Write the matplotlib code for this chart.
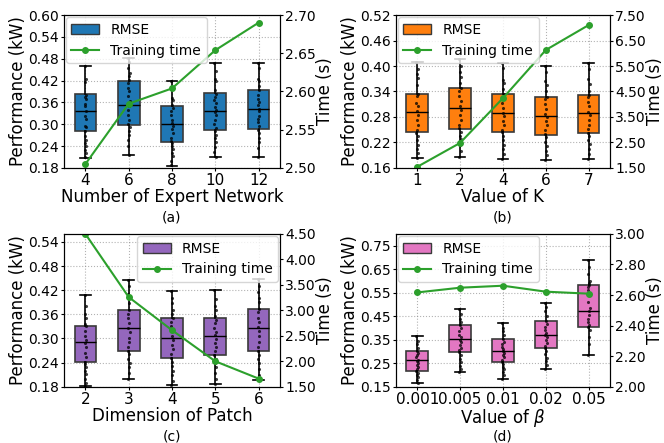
import numpy as np
import matplotlib
matplotlib.use("Agg")
import matplotlib.pyplot as plt
from matplotlib.patches import Patch
from matplotlib.lines import Line2D
from matplotlib.ticker import FormatStrFormatter

# ---- panel (a): number of expert network
a_labels = ["4", "6", "8", "10", "12"]
# (whislo, q1, med, q3, whishi)
a_box = [
    (0.208, 0.282, 0.337, 0.383, 0.459),
    (0.215, 0.297, 0.353, 0.419, 0.483),
    (0.186, 0.251, 0.301, 0.349, 0.419),
    (0.211, 0.283, 0.337, 0.387, 0.469),
    (0.211, 0.287, 0.343, 0.393, 0.467),
]
a_points = [
    [0.461, 0.423, 0.416, 0.379, 0.374, 0.368, 0.356, 0.349, 0.335, 0.322, 0.315,
     0.296, 0.293, 0.281, 0.269, 0.258, 0.249, 0.239, 0.230, 0.221, 0.209],
    [0.483, 0.470, 0.455, 0.440, 0.432, 0.421, 0.412, 0.400, 0.390, 0.377, 0.365,
     0.355, 0.349, 0.338, 0.325, 0.312, 0.300, 0.293, 0.282, 0.270, 0.258, 0.240, 0.215],
    [0.419, 0.400, 0.372, 0.366, 0.352, 0.345, 0.335, 0.325, 0.312, 0.303, 0.296,
     0.288, 0.275, 0.262, 0.255, 0.248, 0.240, 0.232, 0.222, 0.212, 0.200, 0.188],
    [0.469, 0.445, 0.425, 0.418, 0.395, 0.382, 0.375, 0.366, 0.357, 0.348, 0.340,
     0.333, 0.325, 0.312, 0.300, 0.290, 0.282, 0.270, 0.262, 0.250, 0.238, 0.225, 0.211],
    [0.467, 0.455, 0.425, 0.420, 0.405, 0.395, 0.380, 0.370, 0.360, 0.352, 0.343,
     0.335, 0.322, 0.315, 0.305, 0.296, 0.285, 0.275, 0.262, 0.250, 0.235, 0.211],
]
a_time = [2.505, 2.584, 2.604, 2.654, 2.690]

# ---- panel (b): value of K
b_labels = ["1", "2", "4", "6", "7"]
b_box = [
    (0.184, 0.244, 0.291, 0.334, 0.410),
    (0.186, 0.252, 0.300, 0.349, 0.417),
    (0.180, 0.244, 0.289, 0.333, 0.406),
    (0.178, 0.237, 0.282, 0.326, 0.399),
    (0.180, 0.243, 0.289, 0.332, 0.406),
]
b_points = [
    [0.410, 0.392, 0.380, 0.372, 0.355, 0.334, 0.330, 0.312, 0.305, 0.295, 0.285,
     0.272, 0.262, 0.250, 0.242, 0.235, 0.225, 0.214, 0.205, 0.195, 0.184],
    [0.417, 0.400, 0.385, 0.375, 0.360, 0.348, 0.340, 0.330, 0.318, 0.305, 0.296,
     0.284, 0.272, 0.262, 0.255, 0.245, 0.236, 0.228, 0.215, 0.200, 0.186],
    [0.406, 0.395, 0.368, 0.360, 0.345, 0.334, 0.322, 0.312, 0.300, 0.290, 0.282,
     0.270, 0.260, 0.250, 0.244, 0.236, 0.225, 0.215, 0.205, 0.192, 0.180],
    [0.399, 0.385, 0.365, 0.355, 0.340, 0.326, 0.322, 0.310, 0.298, 0.288, 0.280,
     0.270, 0.260, 0.250, 0.240, 0.232, 0.222, 0.212, 0.200, 0.190, 0.178],
    [0.406, 0.392, 0.370, 0.358, 0.342, 0.332, 0.328, 0.316, 0.305, 0.292, 0.284,
     0.272, 0.262, 0.252, 0.243, 0.235, 0.226, 0.216, 0.205, 0.192, 0.180],
]
b_time = [1.54, 2.48, 4.24, 6.13, 7.11]

# ---- panel (c): dimension of patch
c_labels = ["2", "3", "4", "5", "6"]
c_box = [
    (0.183, 0.242, 0.290, 0.331, 0.408),
    (0.199, 0.270, 0.325, 0.371, 0.446),
    (0.185, 0.252, 0.301, 0.350, 0.419),
    (0.188, 0.259, 0.307, 0.351, 0.420),
    (0.197, 0.269, 0.325, 0.374, 0.448),
]
c_points = [
    [0.408, 0.380, 0.360, 0.350, 0.335, 0.330, 0.318, 0.305, 0.296, 0.288, 0.278,
     0.265, 0.255, 0.242, 0.236, 0.228, 0.220, 0.212, 0.200, 0.190, 0.183],
    [0.446, 0.430, 0.410, 0.402, 0.388, 0.372, 0.362, 0.350, 0.338, 0.325, 0.315,
     0.302, 0.290, 0.280, 0.270, 0.262, 0.250, 0.240, 0.228, 0.215, 0.199],
    [0.419, 0.400, 0.388, 0.372, 0.360, 0.350, 0.340, 0.330, 0.318, 0.305, 0.296,
     0.285, 0.275, 0.262, 0.252, 0.242, 0.232, 0.220, 0.208, 0.195, 0.185],
    [0.420, 0.398, 0.380, 0.372, 0.355, 0.345, 0.338, 0.325, 0.315, 0.308, 0.298,
     0.288, 0.278, 0.268, 0.259, 0.250, 0.240, 0.228, 0.215, 0.200, 0.188],
    [0.448, 0.430, 0.415, 0.400, 0.390, 0.374, 0.365, 0.352, 0.340, 0.328, 0.318,
     0.305, 0.292, 0.280, 0.269, 0.260, 0.248, 0.238, 0.225, 0.210, 0.197],
]
c_time = [4.50, 3.26, 2.61, 2.00, 1.66]

# ---- panel (d): value of beta
d_labels = ["0.001", "0.005", "0.01", "0.02", "0.05"]
d_box = [
    (0.165, 0.217, 0.262, 0.302, 0.365),
    (0.212, 0.296, 0.351, 0.413, 0.479),
    (0.184, 0.254, 0.302, 0.351, 0.420),
    (0.226, 0.313, 0.369, 0.430, 0.508),
    (0.286, 0.404, 0.470, 0.583, 0.688),
]
d_points = [
    [0.365, 0.345, 0.330, 0.315, 0.302, 0.295, 0.285, 0.275, 0.265, 0.258, 0.250,
     0.242, 0.232, 0.225, 0.217, 0.210, 0.200, 0.190, 0.180, 0.165],
    [0.479, 0.460, 0.440, 0.425, 0.413, 0.400, 0.385, 0.372, 0.360, 0.350, 0.340,
     0.328, 0.315, 0.305, 0.296, 0.285, 0.270, 0.255, 0.240, 0.225, 0.212],
    [0.420, 0.400, 0.385, 0.370, 0.351, 0.342, 0.332, 0.320, 0.310, 0.302, 0.295,
     0.285, 0.275, 0.265, 0.254, 0.245, 0.235, 0.225, 0.212, 0.198, 0.184],
    [0.508, 0.490, 0.470, 0.450, 0.430, 0.418, 0.405, 0.392, 0.380, 0.370, 0.360,
     0.348, 0.335, 0.322, 0.313, 0.300, 0.288, 0.272, 0.258, 0.242, 0.226],
    [0.688, 0.660, 0.630, 0.600, 0.590, 0.583, 0.575, 0.560, 0.540, 0.510, 0.485,
     0.470, 0.455, 0.440, 0.425, 0.412, 0.404, 0.390, 0.360, 0.330, 0.286],
]
d_time = [2.617, 2.648, 2.661, 2.622, 2.609]

GREEN = "#2ca02c"
LABEL_FS = 12
XTICK_FS = 11
YTICK_FS = 10
LEGEND_FS = 10

fig = plt.figure(figsize=(6.64, 4.43), dpi=100)


def panel(rect, labels, box, points, times, color, xlabel, ylim, ystep,
          tlim, tstep, caption, loc):
    ax = fig.add_axes(rect)
    pos = np.arange(len(labels))
    stats = [dict(whislo=b[0], q1=b[1], med=b[2], q3=b[3], whishi=b[4], fliers=[])
             for b in box]
    ax.bxp(stats, positions=pos, widths=0.5, patch_artist=True,
           boxprops=dict(facecolor=color, edgecolor="#3a3a3a", linewidth=1.2),
           medianprops=dict(color="black", linewidth=1.0),
           whiskerprops=dict(color="black", linewidth=1.2),
           capprops=dict(color="black", linewidth=1.2), zorder=2)
    # small fixed jitter pattern so points do not sit on one line
    jit = np.array([-0.02, 0.01, -0.01, 0.02, 0.0, 0.015, -0.015])
    for i, vals in enumerate(points):
        xs = pos[i] + np.resize(jit, len(vals))
        ax.scatter(xs, vals, s=5, color="black", alpha=0.75, zorder=3,
                   linewidths=0)
    ax.set_xlim(-0.5, len(labels) - 0.5)
    ax.set_xticks(pos)
    ax.set_xticklabels(labels)
    ax.set_ylim(*ylim)
    ax.set_yticks(np.arange(ylim[0], ylim[1] + 1e-6, ystep))
    ax.yaxis.set_major_formatter(FormatStrFormatter("%.2f"))
    ax.grid(True, linestyle=":", color="gray", alpha=0.6, linewidth=0.8)
    ax.set_axisbelow(True)
    ax.tick_params(axis="x", labelsize=XTICK_FS, length=2.5, pad=1.5)
    ax.tick_params(axis="y", labelsize=YTICK_FS, length=2.5, pad=1)
    ax.set_xlabel(xlabel, fontsize=LABEL_FS, labelpad=0)
    ax.set_ylabel("Performance (kW)", fontsize=LABEL_FS, labelpad=1)

    ax2 = ax.twinx()
    ax2.plot(pos, times, color=GREEN, marker="o", markersize=4, linewidth=1.5)
    ax2.set_ylim(*tlim)
    ax2.set_yticks(np.arange(tlim[0], tlim[1] + 1e-6, tstep))
    ax2.yaxis.set_major_formatter(FormatStrFormatter("%.2f"))
    ax2.tick_params(labelsize=YTICK_FS, length=2.5, pad=1)
    ax2.set_ylabel("Time (s)", fontsize=LABEL_FS, labelpad=0)

    handles = [Patch(facecolor=color, edgecolor="#3a3a3a"),
               Line2D([], [], color=GREEN, marker="o", markersize=4, linewidth=1.5)]
    ax2.legend(handles, ["RMSE", "Training time"], loc=loc, fontsize=LEGEND_FS,
               borderaxespad=0.15)
    ax.text(0.5, -0.325, caption, transform=ax.transAxes, ha="center",
            va="center", fontsize=YTICK_FS)
    return ax


panel([0.096, 0.621, 0.326, 0.345], a_labels, a_box, a_points, a_time,
      "#1f77b4", "Number of Expert Network", (0.18, 0.60), 0.06,
      (2.50, 2.70), 0.05, "(a)", "upper left")
panel([0.596, 0.621, 0.323, 0.345], b_labels, b_box, b_points, b_time,
      "#ff7f0e", "Value of K", (0.16, 0.52), 0.06,
      (1.50, 7.50), 1.0, "(b)", "upper left")
panel([0.096, 0.127, 0.326, 0.345], c_labels, c_box, c_points, c_time,
      "#9467bd", "Dimension of Patch", (0.18, 0.56), 0.06,
      (1.50, 4.50), 0.5, "(c)", "upper right")
panel([0.596, 0.127, 0.323, 0.345], d_labels, d_box, d_points, d_time,
      "#e377c2", r"Value of $\beta$", (0.15, 0.80), 0.10,
      (2.00, 3.00), 0.2, "(d)", "upper left")

fig.savefig("out.png", dpi=100)
